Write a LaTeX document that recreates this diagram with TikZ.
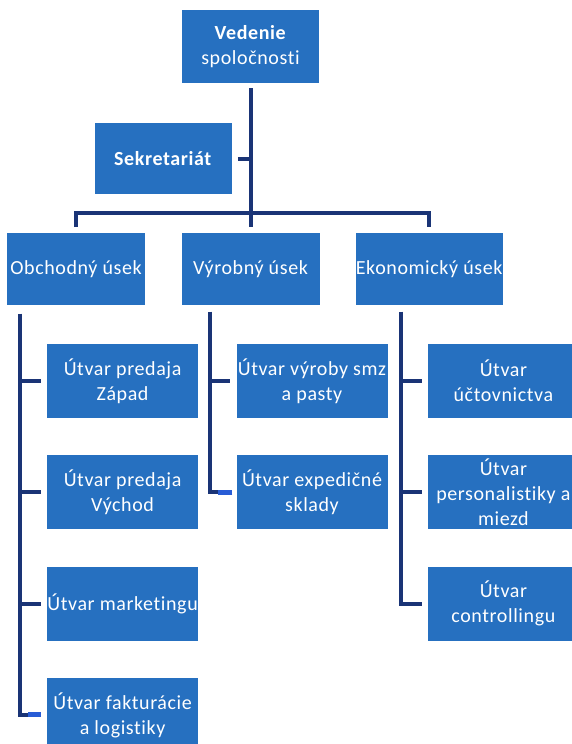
\documentclass[tikz,border=0pt]{standalone}
\usepackage{fontspec}
\setmainfont{Carlito}[LetterSpace=3, Ligatures={NoCommon}]
\usetikzlibrary{positioning}
\definecolor{unitblue}{RGB}{38,112,192}
\definecolor{linknavy}{RGB}{26,52,118}
\definecolor{hintblue}{RGB}{40,92,214}

\begin{document}
\begin{tikzpicture}[
    unit/.style={fill=unitblue, text=white, align=center, inner sep=0pt,
      minimum width=137pt, minimum height=73pt,
      font=\fontsize{20}{25}\selectfont},
    dept/.style={unit, minimum width=138pt, minimum height=72pt},
    office/.style={unit, minimum width=151pt, minimum height=74pt},
    link/.style={draw=linknavy, line width=4pt},
    linkhint/.style={draw=hintblue, line width=5pt}
  ]
  \useasboundingbox (0,0) rectangle (571pt,744pt);

  \node [unit] (top) at (250.5pt,697.5pt) {\textbf{Vedenie}\\spoločnosti};
  \node [unit, minimum height=71pt, below left=40pt and -50pt of top.south west] (sekretariat) {\textbf{Sekretariát}};
  \node [dept, below=150pt of top] (vyrobny) {Výrobný úsek};
  \node [dept, left=36pt of vyrobny] (obchodny) {Obchodný úsek};
  \node [dept, right=36pt of vyrobny] (ekonomicky) {Ekonomický úsek};

  \node [office, below right=38pt and 40pt of obchodny.south west] (predajZ) {Útvar predaja\\Západ};
  \node [office, below=37pt of predajZ] (predajV) {Útvar predaja\\Východ};
  \node [office, below=37pt of predajV] (marketing) {Útvar marketingu};
  \node [office, below=37pt of marketing] (faktura) {Útvar fakturácie\\a logistiky};

  \node [office, below right=38pt and 55pt of vyrobny.south west] (vyroba) {Útvar výroby smz\\a pasty};
  \node [office, below=37pt of vyroba] (expedicia) {Útvar expedičné\\sklady};

  \node [office, below right=38pt and 72pt of ekonomicky.south west] (uctovnictvo) {Útvar\\účtovnictva};
  \node [office, below=37pt of uctovnictvo] (personal) {Útvar\\personalistiky a\\miezd};
  \node [office, below=37pt of personal] (controlling) {Útvar\\controllingu};

  \draw [link] ([yshift=-5pt]top.south) -- ([yshift=6pt]vyrobny.north);
  \draw [link] ([yshift=6pt]obchodny.north) -- ++(0,14pt) -| ([yshift=6pt]ekonomicky.north);
  \draw [link] ([xshift=6pt]sekretariat.east) -- (sekretariat.east -| top.south);

  \coordinate (spineO) at ([xshift=13pt,yshift=-8pt]obchodny.south west);
  \draw [link] (spineO) |- ([xshift=-6pt]faktura.west);
  \draw [link] (predajZ.west -| spineO) -- ([xshift=-6pt]predajZ.west);
  \draw [link] (predajV.west -| spineO) -- ([xshift=-6pt]predajV.west);
  \draw [link] (marketing.west -| spineO) -- ([xshift=-6pt]marketing.west);
  \draw [linkhint] ([xshift=-6pt]faktura.west) -- ++(-13pt,0);

  \coordinate (spineV) at ([xshift=29pt,yshift=-6pt]vyrobny.south west);
  \draw [link] (spineV) |- ([xshift=-6pt]expedicia.west);
  \draw [link] (vyroba.west -| spineV) -- ([xshift=-6pt]vyroba.west);
  \draw [linkhint] ([xshift=-4pt]expedicia.west) -- ++(-14pt,0);

  \coordinate (spineE) at ([xshift=45pt,yshift=-6pt]ekonomicky.south west);
  \draw [link] (spineE) |- ([xshift=-6pt]controlling.west);
  \draw [link] (uctovnictvo.west -| spineE) -- ([xshift=-6pt]uctovnictvo.west);
  \draw [link] (personal.west -| spineE) -- ([xshift=-6pt]personal.west);
\end{tikzpicture}
\end{document}
